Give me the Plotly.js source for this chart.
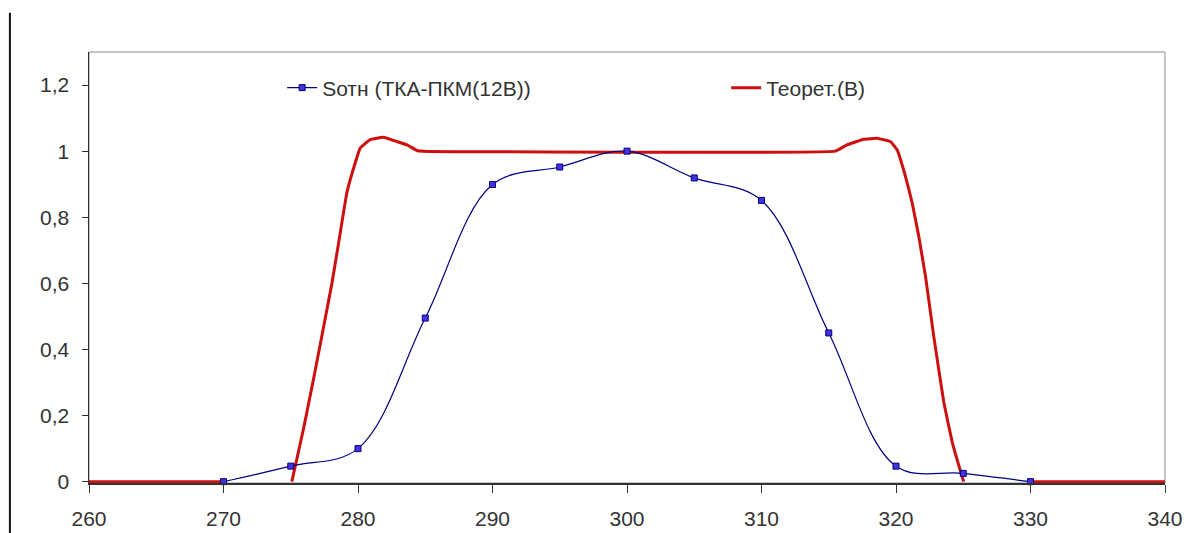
<!DOCTYPE html>
<html>
<head>
<meta charset="utf-8">
<script src="https://cdn.plot.ly/plotly-3.0.1.min.js"></script>
<style>
  html, body { margin: 0; padding: 0; background: #ffffff; }
  #chart { width: 1187px; height: 533px; }
</style>
</head>
<body>
<div id="chart"></div>
<script>
// Measured series: Sотн (ТКА-ПКМ(12В))
const measX = [270, 275, 280, 285, 290, 295, 300, 305, 310, 315, 320, 325, 330];
const measY = [0, 0.047, 0.10, 0.495, 0.899, 0.952, 1.0, 0.919, 0.851, 0.45, 0.047, 0.025, 0];

// Theoretical series: Теорет.(В)  (null = gap where the curve dips below the axis)
const theoX = [260, 270, null,
  275.08, 275.95, 276.69, 277.31, 278.06, 278.55, 279.17, 279.79, 280.16, 280.91, 281.90, 282.89, 283.64, 284.38, 284.87,
  315.49, 316.36, 317.60, 318.59, 319.58, 320.08, 320.70, 321.20, 321.69, 322.19, 322.80, 323.55, 324.17, 324.66, 325.03,
  null, 330, 340];
const theoY = [0, 0, null,
  0, 0.16, 0.31, 0.44, 0.60, 0.72, 0.874, 0.964, 1.009, 1.035, 1.042, 1.029, 1.019, 1.002, 1.0,
  1.0, 1.019, 1.036, 1.039, 1.029, 1.004, 0.924, 0.844, 0.743, 0.622, 0.442, 0.241, 0.121, 0.050, 0,
  null, 0, 0];

const xTicks = [260, 270, 280, 290, 300, 310, 320, 330, 340];
const yTicks = [0, 0.2, 0.4, 0.6, 0.8, 1, 1.2];

const seriesNames = ['Sотн (ТКА-ПКМ(12В))', 'Теорет.(В)'];

const FONT = 'Liberation Sans, Arial, sans-serif';

const traces = [
  {
    x: theoX, y: theoY, name: seriesNames[1], type: 'scatter', mode: 'lines',
    connectgaps: false,
    line: { color: '#cc1010', width: 3, shape: 'spline', smoothing: 0.25 }
  },
  {
    x: measX, y: measY, name: seriesNames[0], type: 'scatter', mode: 'lines+markers',
    line: { color: '#000080', width: 1.2, shape: 'spline', smoothing: 1 },
    marker: { symbol: 'square', size: 6, color: '#4433dd', line: { color: '#000080', width: 1 } },
    cliponaxis: false
  }
];

const layout = {
  width: 1187, height: 533,
  paper_bgcolor: '#ffffff', plot_bgcolor: '#ffffff',
  margin: { l: 89, r: 22, t: 52, b: 50, pad: 0, autoexpand: false },
  separators: ', ',
  font: { family: FONT, size: 21, color: '#333333' },
  showlegend: true,
  legend: {
    orientation: 'h', traceorder: 'reversed',
    x: 0.1795, xanchor: 'left', y: 0.9165, yanchor: 'middle',
    bgcolor: 'rgba(0,0,0,0)', borderwidth: 0,
    entrywidth: 399, entrywidthmode: 'pixels',
    font: { family: FONT, size: 21, color: '#333333' }
  },
  xaxis: {
    range: [260, 340], tickmode: 'array', tickvals: xTicks,
    automargin: false,
    showgrid: false, zeroline: false,
    showline: true, linecolor: '#333333', linewidth: 1.5,
    ticks: 'outside', ticklen: 8, tickcolor: '#333333', tickwidth: 1,
    ticklabelstandoff: 8,
    tickfont: { family: FONT, size: 21, color: '#333333' }
  },
  yaxis: {
    range: [-0.004, 1.3], tickmode: 'array', tickvals: yTicks,
    tickformat: '.1~f',
    automargin: false,
    showgrid: false, zeroline: false,
    showline: true, linecolor: '#333333', linewidth: 1.5,
    ticks: 'outside', ticklen: 6, tickcolor: '#333333', tickwidth: 1,
    ticklabelstandoff: 8,
    tickfont: { family: FONT, size: 21, color: '#333333' }
  },
  shapes: [
    { type: 'rect', xref: 'paper', yref: 'paper', x0: 0, x1: 1, y0: 0, y1: 1,
      line: { color: '#8c8c8c', width: 1 }, layer: 'below' },
    { type: 'line', xref: 'paper', yref: 'paper', x0: -0.0735, x1: -0.0735, y0: -0.12, y1: 1.091,
      line: { color: '#111111', width: 2 } }
  ]
};

Plotly.newPlot('chart', traces, layout, { displayModeBar: false, staticPlot: true });
</script>
</body>
</html>
